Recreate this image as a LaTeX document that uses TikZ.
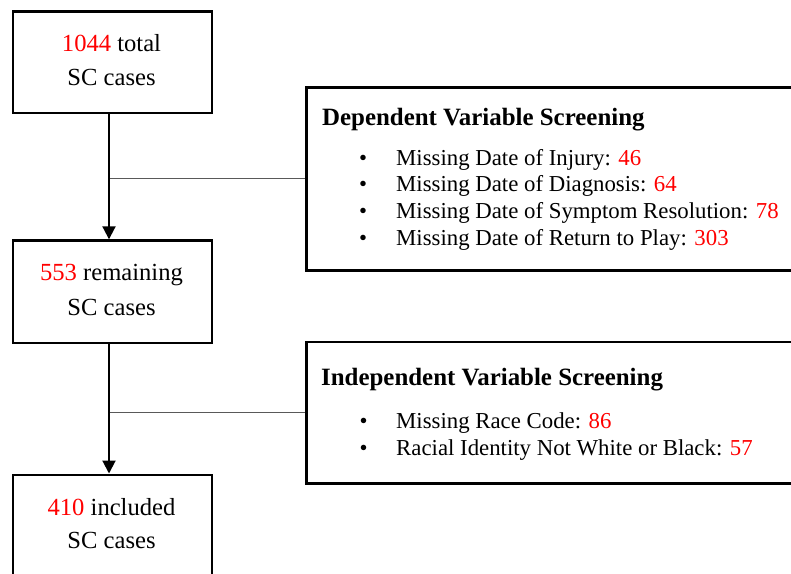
\documentclass[tikz,border=0pt]{standalone}
\usepackage{fontspec}
\setmainfont{Liberation Serif}
\usetikzlibrary{arrows.meta}
\definecolor{numred}{RGB}{255,0,0}
\begin{document}
\begin{tikzpicture}[x=1pt,y=-1pt,
  boxshape/.style={draw=black,line width=2.6pt,rectangle,inner sep=0pt,anchor=north west},
  boxtext/.style={font=\fontsize{24.6}{30}\selectfont,inner sep=0pt,anchor=base},
  headtext/.style={font=\fontsize{24.9}{30}\selectfont\bfseries,inner sep=0pt,anchor=base west},
  itemtext/.style={font=\fontsize{22.8}{27}\selectfont,inner sep=0pt,anchor=base west},
  bullettext/.style={font=\fontsize{22.8}{27}\selectfont,inner sep=0pt,anchor=base},
  flow/.style={line width=2pt,-{Triangle[length=13pt,width=13pt]}},
  side/.style={line width=1pt,draw=black!65}
]
\useasboundingbox (0,0) rectangle (791,573);
\clip (0,0) rectangle (791,573);
\fill[white] (0,0) rectangle (791,573);

% left boxes
\node[boxshape,minimum width=199pt,minimum height=101.7pt] (b1) at (11.7,10) {};
\node[boxshape,minimum width=199pt,minimum height=102.4pt] (b2) at (11.7,239.3) {};
\node[boxshape,minimum width=199pt,minimum height=130pt] (b3) at (11.7,473.5) {};

\node[boxtext] (t1a) at (111.5,51) {\textcolor{numred}{1044} total};
\node[boxtext] (t1b) at (111.5,85) {SC cases};
\node[boxtext] (t2a) at (111.5,280) {\textcolor{numred}{553} remaining};
\node[boxtext] (t2b) at (111.5,315) {SC cases};
\node[boxtext] (t3a) at (111.5,515) {\textcolor{numred}{410} included};
\node[boxtext] (t3b) at (111.5,548) {SC cases};

% right boxes
\node[boxshape,minimum width=500pt,minimum height=183pt] (r1) at (305,86) {};
\node[boxshape,minimum width=500pt,minimum height=141.3pt] (r2) at (305,340.7) {};

\node[headtext] (h1) at (322,125) {Dependent Variable Screening};
\node[bullettext] (d1) at (363,165) {•};
\node[itemtext] (i1) at (396,165) {Missing Date of Injury: \textcolor{numred}{46}};
\node[bullettext] (d2) at (363,191.7) {•};
\node[itemtext] (i2) at (396,191.7) {Missing Date of Diagnosis: \textcolor{numred}{64}};
\node[bullettext] (d3) at (363,218.3) {•};
\node[itemtext] (i3) at (396,218.3) {Missing Date of Symptom Resolution: \textcolor{numred}{78}};
\node[bullettext] (d4) at (363,245) {•};
\node[itemtext] (i4) at (396,245) {Missing Date of Return to Play: \textcolor{numred}{303}};

\node[headtext] (h2) at (321,385) {Independent Variable Screening};
\node[bullettext] (e1) at (363.6,428) {•};
\node[itemtext] (j1) at (396,428) {Missing Race Code: \textcolor{numred}{86}};
\node[bullettext] (e2) at (363.6,455) {•};
\node[itemtext] (j2) at (396,455) {Racial Identity Not White or Black: \textcolor{numred}{57}};

% connectors (the trunk runs a little left of the box centres)
\coordinate (s1) at ([xshift=-3.5pt]b1.south);
\coordinate (n2) at ([xshift=-3.5pt]b2.north);
\coordinate (s2) at ([xshift=-3.5pt]b2.south);
\coordinate (n3) at ([xshift=-3.5pt]b3.north);
\draw[side] (r1.west) -- (r1.west -| s1);
\draw[side] (r2.west) -- (r2.west -| s2);
\draw[flow] (s1) -- (n2);
\draw[flow] (s2) -- (n3);
\end{tikzpicture}
\end{document}
